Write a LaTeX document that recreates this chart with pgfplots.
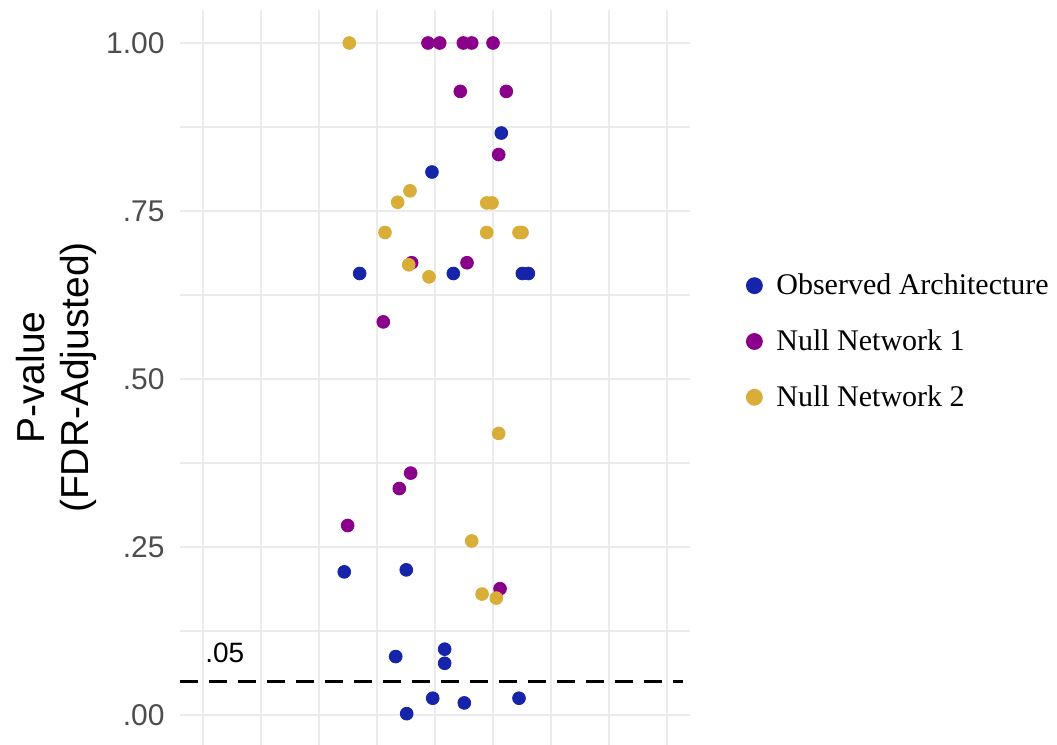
\documentclass[border=0pt]{standalone}
\usepackage{pgfplots}
\pgfplotsset{compat=1.18}
\usepackage{fontspec}
\setmainfont{Liberation Sans}
\newfontfamily\seriffont{Liberation Serif}
\definecolor{cblue}{RGB}{22,36,170}
\definecolor{cpurple}{RGB}{138,0,138}
\definecolor{cgold}{RGB}{216,174,56}
\definecolor{gridc}{RGB}{235,235,235}
\definecolor{tickc}{RGB}{77,77,77}
\begin{document}
\begin{tikzpicture}
\begin{axis}[
  at={(0,0)}, anchor=south west,
  scale only axis, width=255pt, height=367.5pt,
  xmin=-0.39, xmax=8.40, ymin=-0.0446, ymax=1.0491,
  axis line style={draw=none}, xtick style={draw=none}, ytick style={draw=none},
  xtick={0,1,2,3,4,5,6,7,8}, xticklabels={},
  ytick={0,0.25,0.5,0.75,1}, minor ytick={0.125,0.375,0.625,0.875},
  yticklabels={\mbox{.00},\mbox{.25},\mbox{.50},\mbox{.75},\mbox{1.00}},
  grid=both, major grid style={gridc, line width=1.1pt}, minor grid style={gridc, line width=1.1pt},
  yticklabel style={font=\fontsize{15}{18}\selectfont, text=tickc, inner sep=0pt, xshift=-7.5pt, anchor=east},
  ylabel={P-value\\(FDR-Adjusted)},
  every axis y label/.style={at={(axis description cs:-0.2431,0.5)}, rotate=90, anchor=center, align=center, font=\fontsize{19.5}{22}\selectfont},
  legend style={at={(axis description cs:1,0.549)}, anchor=west, xshift=28pt, draw=none, fill=none, inner sep=0pt,
    font=\seriffont\fontsize{15}{18}\selectfont, row sep=12pt, /tikz/every odd column/.append style={column sep=5pt}},
  legend cell align=left,
  legend image code/.code={\draw[#1] plot coordinates {(0.15cm,0cm)};},
  legend image post style={mark size=4pt},
]
\addplot[only marks, mark=*, mark size=3.2pt, color=cblue, mark options={draw=cblue, fill=cblue}] coordinates {
(5.148,0.866) (3.953,0.808) (2.707,0.657) (4.321,0.657) (5.510,0.657) (5.614,0.657)
(2.441,0.213) (3.510,0.216) (3.328,0.087) (4.172,0.098) (4.172,0.077)
(3.966,0.025) (4.510,0.018) (5.453,0.025) (3.517,0.002)
};
\addlegendentry{Observed Architecture}
\addplot[only marks, mark=*, mark size=3.2pt, color=cpurple, mark options={draw=cpurple, fill=cpurple}] coordinates {
(3.884,1.0) (4.086,1.0) (4.493,1.0) (4.638,1.0) (5.005,1.0)
(4.441,0.928) (5.234,0.928) (5.103,0.834) (3.603,0.673) (4.557,0.673)
(3.114,0.585) (3.586,0.360) (3.390,0.337) (2.500,0.282) (5.126,0.188)
};
\addlegendentry{Null Network 1}
\addplot[only marks, mark=*, mark size=3.2pt, color=cgold, mark options={draw=cgold, fill=cgold}] coordinates {
(2.528,1.0) (3.574,0.780) (3.362,0.763) (4.897,0.762) (4.988,0.762)
(3.143,0.718) (4.897,0.718) (5.453,0.718) (5.505,0.718)
(3.552,0.670) (3.902,0.652) (5.103,0.419) (4.638,0.259) (4.816,0.180) (5.062,0.174)
};
\addlegendentry{Null Network 2}
\addplot[forget plot, sharp plot, no marks, black, line width=1.6pt, dash pattern=on 9pt off 5.5pt] coordinates {(-0.39,0.05) (8.28,0.05)};
\node[anchor=base west, inner sep=0pt, font=\fontsize{14}{16}\selectfont] at (axis cs:0.04,0.0789) {.05};
\end{axis}
\pgfresetboundingbox
\path[use as bounding box] (-90pt,0) rectangle (438.5pt,372.5pt);
\end{tikzpicture}
\end{document}
